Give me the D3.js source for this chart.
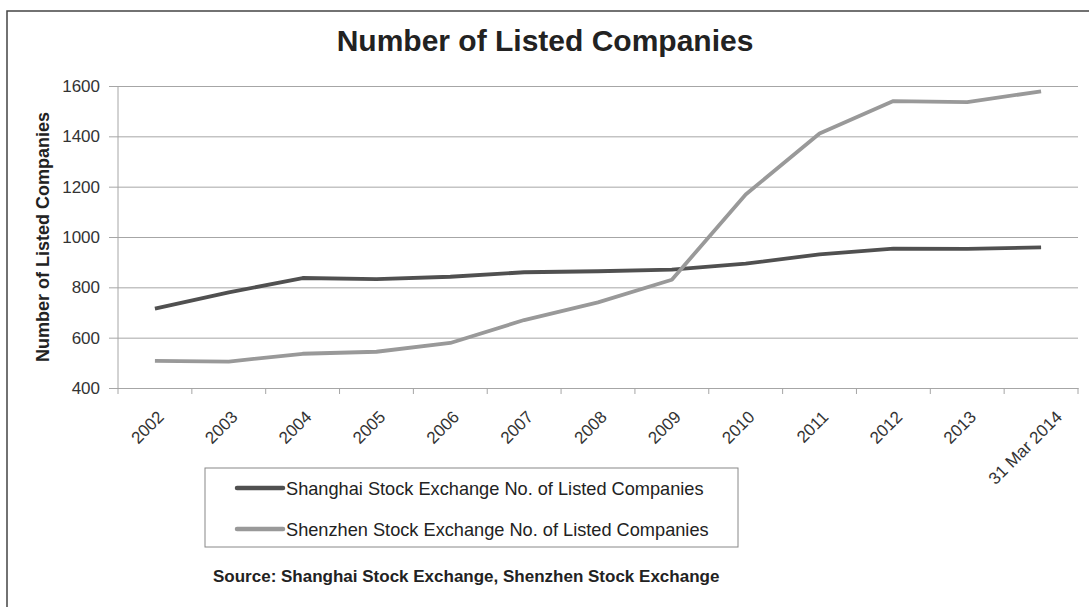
<!DOCTYPE html>
<html lang="en">
<head>
<meta charset="UTF-8">
<title>Number of Listed Companies</title>
<script src="https://d3js.org/d3.v7.min.js"></script>
<style>
    body, html {
        margin: 0;
        padding: 0;
        background: #fff;
        font-family: "Liberation Sans", Arial, sans-serif;
    }
    #chart { width: 1089px; height: 607px; }
</style>
</head>
<body>
<div id="chart"></div>
<script>
    const categories = ["2002", "2003", "2004", "2005", "2006", "2007", "2008",
                        "2009", "2010", "2011", "2012", "2013", "31 Mar 2014"];
    const shanghai = [715, 780, 837, 833, 842, 860, 864, 870, 894, 931, 954, 953, 959];
    const shenzhen = [508, 505, 536, 544, 579, 670, 740, 830, 1169, 1411, 1540, 1536, 1579];
    const yTicks = [400, 600, 800, 1000, 1200, 1400, 1600];

    const series = [
        { name: "Shanghai Stock Exchange No. of Listed Companies", values: shanghai, color: "#505050" },
        { name: "Shenzhen Stock Exchange No. of Listed Companies", values: shenzhen, color: "#999999" }
    ];

    const width = 1089, height = 607;
    const plot = { left: 118, top: 86, right: 1078, bottom: 388 };
    const font = "'Liberation Sans', Arial, sans-serif";

    const svg = d3.select("#chart").append("svg")
        .attr("width", width)
        .attr("height", height);

    // outer frame (runs off the right and bottom edges)
    svg.append("rect")
        .attr("x", 7).attr("y", 11)
        .attr("width", 1100).attr("height", 620)
        .attr("fill", "none")
        .attr("stroke", "#444")
        .attr("stroke-width", 1.5);

    const x = d3.scaleBand()
        .domain(categories)
        .range([plot.left, plot.right]);

    const y = d3.scaleLinear()
        .domain([400, 1600])
        .range([plot.bottom, plot.top]);

    // gridlines + y axis
    const yAxis = svg.append("g")
        .attr("transform", `translate(${plot.left},0)`)
        .call(d3.axisLeft(y).tickValues(yTicks).tickFormat(d3.format("d"))
            .tickSize(-(plot.right - plot.left)).tickSizeOuter(0).tickPadding(0));
    yAxis.select(".domain").remove();
    yAxis.selectAll(".tick line")
        .attr("x1", -9)
        .attr("stroke", "#a6a6a6");
    yAxis.selectAll(".tick text")
        .attr("x", -18)
        .attr("fill", "#333")
        .style("font-size", "17px")
        .style("font-family", font);

    svg.append("line")
        .attr("x1", plot.left).attr("x2", plot.left)
        .attr("y1", plot.top).attr("y2", plot.bottom)
        .attr("stroke", "#a6a6a6");

    // x axis
    const xAxis = svg.append("g")
        .attr("transform", `translate(0,${plot.bottom})`)
        .call(d3.axisBottom(x).tickSize(0).tickSizeOuter(0));
    xAxis.select(".domain").attr("stroke", "#a6a6a6");
    xAxis.selectAll(".tick line").remove();
    xAxis.selectAll(".tick text")
        .attr("fill", "#333")
        .style("font-size", "17px")
        .style("font-family", font)
        .attr("text-anchor", "end")
        .attr("dy", null)
        .attr("y", 0)
        .attr("transform", d => `translate(${d === "31 Mar 2014" ? 22 : 10},30) rotate(-45)`);

    // category boundary ticks
    xAxis.selectAll(".bound")
        .data(categories.map(c => x(c)).concat([plot.right]))
        .enter().append("line")
        .attr("class", "bound")
        .attr("x1", d => d).attr("x2", d => d)
        .attr("y1", 0).attr("y2", 6)
        .attr("stroke", "#a6a6a6");

    // lines
    const line = d3.line()
        .x((d, i) => x(categories[i]) + x.bandwidth() / 2)
        .y(d => y(d));

    series.forEach(s => {
        svg.append("path")
            .datum(s.values)
            .attr("fill", "none")
            .attr("stroke", s.color)
            .attr("stroke-width", 3.8)
            .attr("stroke-linejoin", "round")
            .attr("d", line);
    });

    // title
    svg.append("text")
        .attr("x", 545).attr("y", 51)
        .attr("text-anchor", "middle")
        .attr("fill", "#222")
        .style("font-size", "30px")
        .style("font-weight", "bold")
        .text("Number of Listed Companies");

    // y axis title
    svg.append("text")
        .attr("transform", `translate(49,${(plot.top + plot.bottom) / 2}) rotate(-90)`)
        .attr("text-anchor", "middle")
        .attr("fill", "#222")
        .style("font-size", "18px")
        .style("font-weight", "bold")
        .text("Number of Listed Companies");

    // legend
    const legend = svg.append("g");
    legend.append("rect")
        .attr("x", 205).attr("y", 468)
        .attr("width", 533).attr("height", 79)
        .attr("fill", "none")
        .attr("stroke", "#888")
        .attr("stroke-width", 1);

    series.forEach((s, i) => {
        const ly = 488 + i * 41;
        legend.append("line")
            .attr("x1", 237).attr("x2", 283)
            .attr("y1", ly).attr("y2", ly)
            .attr("stroke", s.color)
            .attr("stroke-width", 4.5)
            .attr("stroke-linecap", "round");
        legend.append("text")
            .attr("x", 286).attr("y", ly + 7)
            .attr("fill", "#222")
            .style("font-size", "18.2px")
            .text(s.name);
    });

    // source note
    svg.append("text")
        .attr("x", 213).attr("y", 582)
        .attr("fill", "#222")
        .style("font-size", "17px")
        .style("font-weight", "bold")
        .text("Source: Shanghai Stock Exchange, Shenzhen Stock Exchange");
</script>
</body>
</html>
